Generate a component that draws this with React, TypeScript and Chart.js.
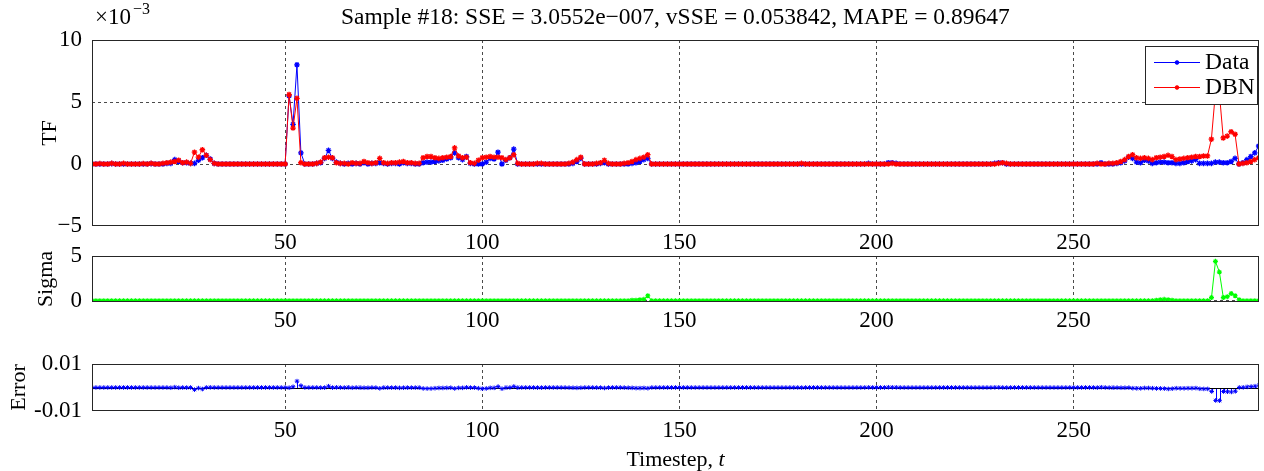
import React, { useEffect, useRef } from 'react';
import { Chart, registerables } from 'chart.js';

Chart.register(...registerables);

const FONT = "'Liberation Serif', 'Times New Roman', serif";
const BLUE = '#0000ff';
const RED = '#ff0000';
const GREEN = '#00ff00';
const GRID = '#4a4a4a';
const BOX = '#262626';
const TICK_SIZE = 23;
const TITLE_SIZE = 23.5;
const LABEL_SIZE = 22;

// ---- categories / ticks ----
const TIMESTEPS = Array.from({ length: 297 }, (_, i) => i + 1);
const X_TICKS = [50, 100, 150, 200, 250];
const TF_TICKS = [-5, 0, 5, 10];
const TF_TICK_LABELS = ['\u22125', '0', '5', '10'];
const SIGMA_TICKS = [0, 5];
const SIGMA_TICK_LABELS = ['0', '5'];
const ERROR_TICKS = [-0.01, 0.01];
const ERROR_TICK_LABELS = ['-0.01', '0.01'];

const TITLE = 'Sample #18: SSE = 3.0552e\u2212007, vSSE = 0.053842, MAPE = 0.89647';
const SERIES_LABELS = ['Data', 'DBN'];

// ---- TF series (x10^-3) ----
const DATA_TF = [
  0, 0, 0, 0, 0, 0.03, 0, 0, 0, 0, 0, 0, 0, 0, 0, 0.03, 0, 0, 0, 0.05, // 1-20
  0.05, 0.35, 0.2, 0.1, 0.1, 0.05, 0.05, 0.3, 0.5, 0.7, 0.4, 0.05, 0, 0, 0, 0, 0, 0, 0, 0, // 21-40
  0, 0, 0, 0, 0, 0, 0, 0, 0, 0, 5.5, 3.2, 8.0, 0.9, 0, 0, 0, 0.05, 0.1, 0.45, // 41-60
  1.1, 0.45, 0.15, 0.05, 0, 0.05, 0, 0.05, 0, 0.1, 0, 0.05, 0.05, 0.1, 0.05, 0, 0.05, 0.05, 0, 0.1, // 61-80
  0.05, 0.05, 0, 0, 0.1, 0.15, 0.15, 0.2, 0.25, 0.3, 0.4, 0.5, 0.9, 0.5, 0.35, 0.6, 0.05, 0, 0, 0, // 81-100
  0.15, 0.45, 0.4, 0.95, 0, 0.3, 0.5, 1.2, 0, 0, 0, 0, 0, 0, 0, 0, 0, 0, 0, 0, // 101-120
  0, 0, 0.05, 0.2, 0.45, 0, 0, 0, 0, 0.05, 0.1, 0, 0, 0, 0, 0, 0, 0.05, 0.1, 0.2, // 121-140
  0.35, 0.45, 0, 0, 0, 0, 0, 0, 0, 0, 0, 0, 0, 0, 0, 0, 0, 0, 0, 0, // 141-160
  0, 0, 0, 0, 0, 0, 0, 0, 0, 0, 0, 0, 0, 0, 0, 0, 0, 0, 0, 0, // 161-180
  0, 0, 0, 0, 0, 0, 0, 0, 0, 0, 0, 0, 0, 0, 0, 0, 0, 0.05, 0, 0, // 181-200
  0, 0, 0.1, 0.1, 0.05, 0, 0, 0, 0, 0, 0, 0, 0, 0, 0, 0, 0, 0, 0, 0, // 201-220
  0, 0, 0, 0, 0, 0, 0, 0, 0, 0.05, 0.1, 0.1, 0, 0, 0, 0, 0, 0, 0, 0, // 221-240
  0, 0, 0, 0, 0, 0, 0, 0, 0, 0, 0, 0, 0, 0, 0, 0, 0.1, 0, 0, 0, // 241-260
  0.05, 0.1, 0.25, 0.55, 0.45, 0.15, 0.1, 0.3, 0.25, 0.05, 0.1, 0.15, 0.15, 0.1, 0.1, 0.05, 0.05, 0.1, 0.2, 0.25, // 261-280
  0.35, 0.05, 0.05, 0.05, 0.05, 0.15, 0.15, 0.1, 0.1, 0.2, 0.45, 0, 0.1, 0.35, 0.6, 0.9, 1.45, // 281-297
];

const DBN_TF = [
  0, 0, 0.03, 0, 0, 0.05, 0, 0, 0.05, 0, 0, 0, 0, 0.03, 0, 0.05, 0, 0, 0.05, 0.1, // 1-20
  0.15, 0.2, 0.3, 0.1, 0.15, 0.05, 0.95, 0.55, 1.15, 0.7, 0.35, 0.05, 0, 0, 0, 0, 0, 0, 0, 0, // 21-40
  0, 0, 0, 0, 0, 0, 0, 0, 0, 0, 5.6, 2.9, 5.3, 0.1, 0, 0, 0, 0.05, 0.15, 0.5, // 41-60
  0.55, 0.5, 0.1, 0.05, 0.05, 0, 0.1, 0.05, 0.05, 0.2, 0.1, 0.05, 0.1, 0.45, 0.1, 0.05, 0.1, 0.1, 0.15, 0.2, // 61-80
  0.1, 0.1, 0.05, 0.05, 0.5, 0.6, 0.6, 0.5, 0.45, 0.5, 0.55, 0.6, 1.3, 0.65, 0.5, 0.55, 0.1, 0.05, 0.3, 0.5, // 81-100
  0.55, 0.6, 0.55, 0.55, 0.5, 0.35, 0.5, 0.75, 0.05, 0, 0, 0, 0, 0.05, 0.05, 0, 0, 0, 0, 0, // 101-120
  0, 0.05, 0.15, 0.35, 0.55, 0, 0, 0, 0.05, 0.1, 0.3, 0.05, 0, 0, 0, 0.05, 0.1, 0.2, 0.35, 0.45, // 121-140
  0.55, 0.75, 0, 0, 0, 0, 0, 0, 0, 0, 0, 0, 0, 0, 0, 0, 0, 0, 0, 0, // 141-160
  0, 0, 0, 0, 0, 0, 0, 0, 0, 0, 0, 0, 0, 0, 0, 0, 0, 0, 0, 0, // 161-180
  0.05, 0, 0, 0, 0, 0, 0, 0, 0, 0, 0, 0, 0, 0, 0, 0, 0, 0, 0, 0, // 181-200
  0, 0, 0, 0.05, 0, 0, 0, 0, 0, 0, 0, 0, 0, 0, 0, 0, 0, 0, 0, 0, // 201-220
  0, 0, 0, 0, 0, 0, 0, 0, 0, 0, 0.05, 0.1, 0.05, 0, 0, 0, 0, 0, 0, 0, // 221-240
  0, 0, 0, 0, 0, 0, 0, 0, 0, 0, 0, 0, 0, 0, 0, 0.05, 0, 0, 0.05, 0.05, // 241-260
  0.1, 0.2, 0.35, 0.6, 0.75, 0.5, 0.45, 0.5, 0.45, 0.35, 0.5, 0.55, 0.6, 0.7, 0.6, 0.35, 0.4, 0.45, 0.5, 0.55, // 261-280
  0.6, 0.6, 0.65, 0.65, 2.0, 5.7, 5.8, 2.1, 2.25, 2.6, 2.4, 0, 0.05, 0.1, 0.2, 0.35, 0.5, // 281-297
];

// ---- Sigma series ----
const SIGMA = [
  0, 0, 0, 0, 0, 0, 0, 0, 0, 0, 0, 0, 0, 0, 0, 0, 0, 0, 0, 0, // 1-20
  0, 0, 0, 0, 0, 0, 0, 0, 0, 0, 0, 0, 0, 0, 0, 0, 0, 0, 0, 0, // 21-40
  0, 0, 0, 0, 0, 0, 0, 0, 0, 0, 0, 0, 0, 0, 0, 0, 0, 0, 0, 0, // 41-60
  0, 0, 0, 0, 0, 0, 0, 0, 0, 0, 0, 0, 0, 0, 0, 0, 0, 0, 0, 0, // 61-80
  0, 0, 0, 0, 0, 0, 0, 0, 0, 0, 0, 0, 0, 0, 0, 0, 0, 0, 0, 0, // 81-100
  0, 0, 0, 0, 0, 0, 0, 0, 0, 0, 0, 0, 0, 0, 0, 0, 0, 0, 0, 0, // 101-120
  0, 0, 0, 0, 0, 0, 0, 0, 0, 0, 0, 0, 0, 0, 0, 0, 0, 0.05, 0.05, 0.1, // 121-140
  0.15, 0.55, 0, 0, 0, 0, 0, 0, 0, 0, 0, 0, 0, 0, 0, 0, 0, 0, 0, 0, // 141-160
  0, 0, 0, 0, 0, 0, 0, 0, 0, 0, 0, 0, 0, 0, 0, 0, 0, 0, 0, 0, // 161-180
  0, 0, 0, 0, 0, 0, 0, 0, 0, 0, 0, 0, 0, 0, 0, 0, 0, 0, 0, 0, // 181-200
  0, 0, 0, 0, 0, 0, 0, 0, 0, 0, 0, 0, 0, 0, 0, 0, 0, 0, 0, 0, // 201-220
  0, 0, 0, 0, 0, 0, 0, 0, 0, 0, 0, 0, 0, 0, 0, 0, 0, 0, 0, 0, // 221-240
  0, 0, 0, 0, 0, 0, 0, 0, 0, 0, 0, 0, 0, 0, 0, 0, 0, 0, 0, 0, // 241-260
  0, 0, 0, 0, 0, 0, 0, 0, 0, 0, 0.05, 0.1, 0.15, 0.1, 0.05, 0, 0, 0, 0, 0, // 261-280
  0, 0, 0, 0, 0.35, 4.4, 3.2, 0.35, 0.45, 0.8, 0.55, 0.1, 0, 0, 0, 0, 0, // 281-297
];

// ---- Error series ----
const ERROR = [
  0, 0, 0, 0, 0, 0, 0, 0, 0, 0, 0, 0, 0, 0, 0, 0, 0, 0, 0, 0, // 1-20
  -0.0001, 0.00015, -0.0001, 0, -0.00005, 0, -0.0009, -0.00025, -0.00065, 0, 0.00005, 0, 0, 0, 0, 0, 0, 0, 0, 0, // 21-40
  0, 0, 0, 0, 0, 0, 0, 0, 0, 0, -0.0001, 0.0003, 0.0027, 0.0008, 0, 0, 0, 0, -0.00005, -0.00005, // 41-60
  0.00055, -0.00005, 0.00005, 0, -0.00005, 0.00005, -0.0001, 0, -0.00005, -0.0001, -0.0001, 0, -0.00005, -0.00035, -0.00005, -0.00005, -0.00005, -0.00005, -0.00015, -0.0001, // 61-80
  -0.00005, -0.00005, -0.00005, -0.00005, -0.0004, -0.00045, -0.00045, -0.0003, -0.0002, -0.0002, -0.00015, -0.0001, -0.0004, -0.00015, -0.00015, 0.00005, -0.00005, -0.00005, -0.0003, -0.0005, // 81-100
  -0.0004, -0.00015, -0.00015, 0.0004, -0.0005, -0.00005, 0, 0.00045, -0.00005, 0, 0, 0, 0, -0.00005, -0.00005, 0, 0, 0, 0, 0, // 101-120
  0, -0.00005, -0.0001, -0.00015, -0.0001, 0, 0, 0, -0.00005, -0.00005, -0.0002, -0.00005, 0, 0, 0, -0.00005, -0.0001, -0.00015, -0.00025, -0.00025, // 121-140
  -0.0002, -0.0003, 0, 0, 0, 0, 0, 0, 0, 0, 0, 0, 0, 0, 0, 0, 0, 0, 0, 0, // 141-160
  0, 0, 0, 0, 0, 0, 0, 0, 0, 0, 0, 0, 0, 0, 0, 0, 0, 0, 0, 0, // 161-180
  -0.00005, 0, 0, 0, 0, 0, 0, 0, 0, 0, 0, 0, 0, 0, 0, 0, 0, 0.00005, 0, 0, // 181-200
  0, 0, 0.0001, 0.00005, 0.00005, 0, 0, 0, 0, 0, 0, 0, 0, 0, 0, 0, 0, 0, 0, 0, // 201-220
  0, 0, 0, 0, 0, 0, 0, 0, 0, 0.00005, 0.00005, 0, -0.00005, 0, 0, 0, 0, 0, 0, 0, // 221-240
  0, 0, 0, 0, 0, 0, 0, 0, 0, 0, 0, 0, 0, 0, 0, -0.00005, 0.0001, 0, -0.00005, -0.00005, // 241-260
  -0.00005, -0.0001, -0.0001, -0.00005, -0.0003, -0.00035, -0.00035, -0.0002, -0.0002, -0.0003, -0.0004, -0.0004, -0.00045, -0.0006, -0.0005, -0.0003, -0.00035, -0.00035, -0.0003, -0.0003, // 261-280
  -0.00025, -0.00055, -0.0006, -0.0006, -0.0017, -0.0055, -0.0056, -0.0017, -0.0018, -0.0019, -0.0016, 0, 0.00005, 0.00025, 0.0004, 0.00055, 0.00095, // 281-297
];

// ---------------- helpers ----------------
function xScale(height: number, tickPadding: number) {
  return {
    type: 'linear',
    min: 1,
    max: 297,
    offset: false,
    afterBuildTicks: (s: any) => {
      s.ticks = X_TICKS.map((v) => ({ value: v }));
    },
    afterFit: (s: any) => {
      s.height = height;
    },
    ticks: {
      font: { family: FONT, size: TICK_SIZE, lineHeight: 1 },
      color: '#000',
      padding: tickPadding,
      maxRotation: 0,
      autoSkip: false,
      callback: (v: number) => String(v),
    },
    grid: { color: GRID, lineWidth: 1, drawTicks: false, offset: false },
    border: { display: false, dash: [3, 3] },
  };
}

function yScale(min: number, max: number, ticks: number[], labels: string[]) {
  const lo = ticks[0];
  const hi = ticks[ticks.length - 1];
  return {
    type: 'linear',
    min,
    max,
    afterBuildTicks: (s: any) => {
      s.ticks = ticks.map((v) => ({ value: v }));
    },
    afterFit: (s: any) => {
      s.width = 92;
    },
    ticks: {
      font: { family: FONT, size: TICK_SIZE, lineHeight: 1 },
      color: '#000',
      padding: 10,
      autoSkip: false,
      callback: (v: number) => {
        const i = ticks.indexOf(v);
        return i >= 0 ? labels[i] : '';
      },
    },
    grid: {
      lineWidth: 1,
      drawTicks: false,
      offset: false,
      color: (c: any) => {
        const v = c.tick ? c.tick.value : NaN;
        if ((v === hi && max - hi < (max - min) * 0.05) || (v === lo && lo - min < (max - min) * 0.01)) return 'rgba(0,0,0,0)';
        return GRID;
      },
    },
    border: { display: false, dash: [3, 3] },
  };
}

const boxPlugin = {
  id: 'axesBox',
  afterDatasetsDraw(chart: any) {
    const { ctx, chartArea: a } = chart;
    ctx.save();
    ctx.strokeStyle = BOX;
    ctx.lineWidth = 1;
    ctx.setLineDash([]);
    const l = Math.round(a.left) + 0.5;
    const t = Math.round(a.top) + 0.5;
    const r = Math.round(a.right) - 0.5;
    const b = Math.round(a.bottom) - 0.5;
    ctx.strokeRect(l, t, r - l, b - t);
    ctx.restore();
  },
};

function drawStar(ctx: CanvasRenderingContext2D, x: number, y: number, r: number, color: string) {
  ctx.save();
  ctx.strokeStyle = color;
  ctx.lineWidth = 1.5;
  ctx.beginPath();
  for (let k = 0; k < 4; k++) {
    const ang = (k * Math.PI) / 4;
    ctx.moveTo(x - Math.cos(ang) * r, y - Math.sin(ang) * r);
    ctx.lineTo(x + Math.cos(ang) * r, y + Math.sin(ang) * r);
  }
  ctx.stroke();
  ctx.restore();
}

function vText(ctx: CanvasRenderingContext2D, text: string, x: number, y: number) {
  ctx.save();
  ctx.translate(x, y);
  ctx.rotate(-Math.PI / 2);
  ctx.textAlign = 'center';
  ctx.textBaseline = 'middle';
  ctx.fillText(text, 0, 0);
  ctx.restore();
}

const topTextPlugin = {
  id: 'topText',
  afterDraw(chart: any) {
    const { ctx, chartArea: a } = chart;
    ctx.save();
    ctx.fillStyle = '#000';
    ctx.font = `${TITLE_SIZE}px ${FONT}`;
    ctx.textAlign = 'center';
    ctx.textBaseline = 'middle';
    ctx.fillText(TITLE, (a.left + a.right) / 2, 18);
    ctx.textAlign = 'left';
    ctx.font = `${TICK_SIZE}px ${FONT}`;
    ctx.fillText('\u00d710', 95, 18);
    const w = ctx.measureText('\u00d710').width;
    ctx.font = `16px ${FONT}`;
    ctx.fillText('\u22123', 95 + w + 2, 10);
    ctx.font = `${LABEL_SIZE}px ${FONT}`;
    vText(ctx, 'TF', 50, (a.top + a.bottom) / 2);
    ctx.restore();
  },
};

const legendPlugin = {
  id: 'mlLegend',
  afterDraw(chart: any) {
    const { ctx } = chart;
    const x0 = 1145.5, y0 = 46.5, w = 112, h = 58;
    ctx.save();
    ctx.fillStyle = '#fff';
    ctx.fillRect(x0, y0, w, h);
    ctx.strokeStyle = BOX;
    ctx.lineWidth = 1;
    ctx.strokeRect(x0, y0, w, h);
    const rows = chart.data.datasets.map((d: any, i: number) => ({ label: d.label, color: d.borderColor, y: 62 + i * 25 }));
    ctx.font = `${TITLE_SIZE}px ${FONT}`;
    ctx.textBaseline = 'middle';
    ctx.textAlign = 'left';
    rows.forEach((r: any) => {
      ctx.strokeStyle = r.color;
      ctx.lineWidth = 1;
      ctx.beginPath();
      ctx.moveTo(1154, r.y + 0.5);
      ctx.lineTo(1200, r.y + 0.5);
      ctx.stroke();
      drawStar(ctx, 1177, r.y + 0.5, 2.2, r.color);
      ctx.fillStyle = '#000';
      ctx.fillText(r.label, 1205, r.y + 1);
    });
    ctx.restore();
  },
};

const sigmaTextPlugin = {
  id: 'sigmaText',
  afterDraw(chart: any) {
    const { ctx, chartArea: a } = chart;
    ctx.save();
    ctx.fillStyle = '#000';
    ctx.font = `${LABEL_SIZE}px ${FONT}`;
    vText(ctx, 'Sigma', 46, (a.top + a.bottom) / 2);
    ctx.restore();
  },
};

// Stem lines and baseline for the error panel, placed through the chart's scales.
const stemPlugin = {
  id: 'stems',
  beforeDatasetsDraw(chart: any) {
    const { ctx, chartArea: a, scales } = chart;
    const xs = scales.x;
    const ys = scales.y;
    const y0 = Math.round(ys.getPixelForValue(0)) + 0.5;
    ctx.save();
    ctx.beginPath();
    ctx.rect(a.left, a.top, a.right - a.left, a.bottom - a.top);
    ctx.clip();
    ctx.strokeStyle = BLUE;
    ctx.lineWidth = 1;
    ctx.beginPath();
    ERROR.forEach((v, i) => {
      if (v === 0) return;
      const x = Math.round(xs.getPixelForValue(TIMESTEPS[i])) + 0.5;
      ctx.moveTo(x, y0);
      ctx.lineTo(x, ys.getPixelForValue(v));
    });
    ctx.stroke();
    ctx.strokeStyle = '#000';
    ctx.beginPath();
    ctx.moveTo(a.left, y0);
    ctx.lineTo(a.right, y0);
    ctx.stroke();
    ctx.restore();
  },
};

const errorTextPlugin = {
  id: 'errorText',
  afterDraw(chart: any) {
    const { ctx, chartArea: a } = chart;
    ctx.save();
    ctx.fillStyle = '#000';
    ctx.font = `${LABEL_SIZE}px ${FONT}`;
    vText(ctx, 'Error', 19, (a.top + a.bottom) / 2);
    const p1 = 'Timestep, ';
    const p2 = 't';
    const w1 = ctx.measureText(p1).width;
    ctx.font = `italic ${LABEL_SIZE}px ${FONT}`;
    const w2 = ctx.measureText(p2).width;
    const cx = (a.left + a.right) / 2;
    const sx = cx - (w1 + w2) / 2;
    ctx.textAlign = 'left';
    ctx.textBaseline = 'middle';
    ctx.font = `${LABEL_SIZE}px ${FONT}`;
    ctx.fillText(p1, sx, 125);
    ctx.font = `italic ${LABEL_SIZE}px ${FONT}`;
    ctx.fillText(p2, sx + w1, 125);
    ctx.restore();
  },
};

const baseOptions = (padTop: number, xs: any, ys: any) => ({
  responsive: false,
  animation: false,
  devicePixelRatio: 1,
  events: [],
  layout: { padding: { top: padTop, right: 1, left: 0, bottom: 0 } },
  plugins: { legend: { display: false }, title: { display: false }, tooltip: { enabled: false } },
  scales: { x: xs, y: ys },
});

const lineDs = (label: string, data: number[], color: string, order: number, r = 2.8, bw = 1.3) => ({
  label,
  data,
  borderColor: color,
  backgroundColor: color,
  borderWidth: 1,
  pointStyle: 'star',
  pointRadius: r,
  pointBorderWidth: bw,
  pointBorderColor: color,
  pointBackgroundColor: color,
  tension: 0,
  order,
});

export default function App() {
  const r1 = useRef<HTMLCanvasElement>(null);
  const r2 = useRef<HTMLCanvasElement>(null);
  const r3 = useRef<HTMLCanvasElement>(null);

  useEffect(() => {
    const c1 = new Chart(r1.current as HTMLCanvasElement, {
      type: 'line',
      data: {
        labels: TIMESTEPS,
        datasets: [
          lineDs(SERIES_LABELS[0], DATA_TF, BLUE, 2),
          lineDs(SERIES_LABELS[1], DBN_TF, RED, 1),
        ],
      },
      options: baseOptions(40, xScale(24, 5), yScale(-5, 10, TF_TICKS, TF_TICK_LABELS)) as any,
      plugins: [boxPlugin, topTextPlugin, legendPlugin],
    } as any);

    const c2 = new Chart(r2.current as HTMLCanvasElement, {
      type: 'line',
      data: {
        labels: TIMESTEPS,
        datasets: [lineDs('Sigma', SIGMA, GREEN, 1, 2.5, 1.2)],
      },
      options: baseOptions(31, xScale(33, 7), yScale(-0.15, 5, SIGMA_TICKS, SIGMA_TICK_LABELS)) as any,
      plugins: [boxPlugin, sigmaTextPlugin],
    } as any);

    const c3 = new Chart(r3.current as HTMLCanvasElement, {
      type: 'line',
      data: {
        labels: TIMESTEPS,
        datasets: [{ ...lineDs('Error', ERROR, BLUE, 1, 2.3, 1), showLine: false }],
      },
      options: baseOptions(29, xScale(60, 8), yScale(-0.01, 0.01, ERROR_TICKS, ERROR_TICK_LABELS)) as any,
      plugins: [stemPlugin, errorTextPlugin, boxPlugin],
    } as any);

    return () => {
      c1.destroy();
      c2.destroy();
      c3.destroy();
    };
  }, []);

  return (
    <div style={{ position: 'absolute', left: 0, top: 0, width: 1264, height: 471, background: '#fff', overflow: 'hidden' }}>
      <canvas ref={r1} width={1264} height={250} style={{ position: 'absolute', left: 0, top: 0, width: 1264, height: 250 }} />
      <canvas ref={r2} width={1264} height={110} style={{ position: 'absolute', left: 0, top: 225, width: 1264, height: 110 }} />
      <canvas ref={r3} width={1264} height={136} style={{ position: 'absolute', left: 0, top: 335, width: 1264, height: 136 }} />
    </div>
  );
}
